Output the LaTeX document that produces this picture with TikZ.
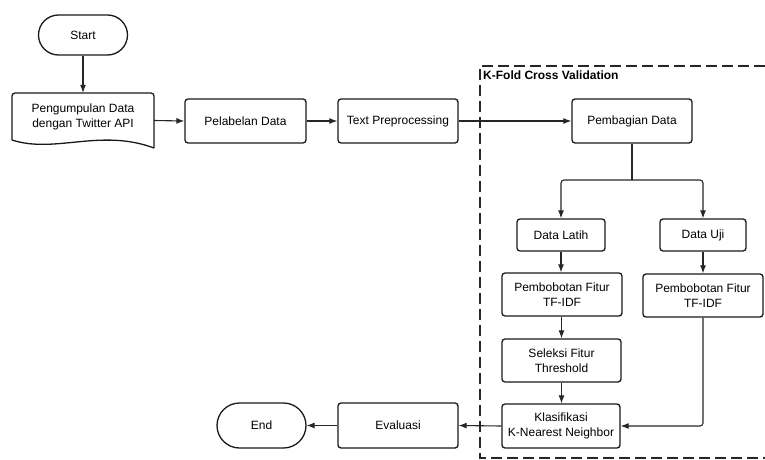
\documentclass[tikz,border=0pt]{standalone}
\usepackage{fontspec}
\setmainfont{Liberation Sans}
\usetikzlibrary{arrows.meta,shapes.misc}
\begin{document}
\begin{tikzpicture}[x=1pt,y=-1pt,
  txt/.style={font=\fontsize{12}{14.5}\selectfont, align=center},
  proc/.style={txt, draw=black!90, line width=1.3pt, rounded corners=3pt, inner sep=0pt},
  term/.style={txt, draw=black!90, line width=1.3pt, rounded rectangle, inner sep=0pt},
  conn/.style={line width=1.1pt, draw=black!85, rounded corners=3pt, -{Latex[length=8pt,width=6pt]}},
  plain/.style={line width=1.1pt, draw=black!85, rounded corners=3pt},
  cvbox/.style={line width=1.4pt, draw=black!85, dash pattern=on 11pt off 5pt}
]
\useasboundingbox (0,0) rectangle (765,460);

% K-fold frame
\draw[cvbox] (765,66) -- (480,66) -- (480,458) -- (765,458);
\node[anchor=west, inner sep=0pt, font=\fontsize{12}{14}\selectfont\bfseries] (kfold) at (483,75) {K-Fold Cross Validation};

% nodes
\node[term, minimum width=89pt, minimum height=40pt] (start) at (83,35) {Start};

\node[minimum width=142pt, minimum height=55pt, inner sep=0pt] (doc) at (83,120.5) {};
\draw[line width=1.3pt, draw=black!90, rounded corners=3pt] (12,140) -- (12,93) -- (154,93) -- (154,148);
\draw[line width=1.3pt, draw=black!90] (12,140) .. controls (55,154) and (100,128) .. (154,148);
\node[txt, inner sep=0pt] (doctext) at (83,117) {Pengumpulan Data\\dengan Twitter API};

\node[proc, minimum width=121pt, minimum height=44pt] (pel) at (245.5,121) {Pelabelan Data};
\node[proc, minimum width=120pt, minimum height=44pt] (tp) at (398,121) {Text Preprocessing};
\node[proc, minimum width=120pt, minimum height=44pt] (pem) at (632,121) {Pembagian Data};

\node[proc, minimum width=88pt, minimum height=32pt] (latih) at (561,235) {Data Latih};
\node[proc, minimum width=86pt, minimum height=32pt] (uji) at (703,235) {Data Uji};

\node[proc, minimum width=120pt, minimum height=43pt] (bobotA) at (562,294.5) {Pembobotan Fitur\\TF-IDF};
\node[proc, minimum width=120pt, minimum height=43pt] (bobotB) at (703,295.5) {Pembobotan Fitur\\TF-IDF};
\node[proc, minimum width=119pt, minimum height=43pt] (sel) at (561.5,360.5) {Seleksi Fitur\\Threshold};
\node[proc, minimum width=118pt, minimum height=44pt] (klas) at (561,426) {Klasifikasi\\K-Nearest Neighbor};

\node[proc, minimum width=120pt, minimum height=45pt] (eval) at (398,425.5) {Evaluasi};
\node[term, minimum width=89pt, minimum height=45pt] (end) at (261.5,425.5) {End};

% connectors
\coordinate (junc) at (632,180);
\draw[conn] (start.south) -- (doc.north);
\draw[conn] (doc.east) -- (pel.west);
\draw[conn] (pel.east) -- (tp.west);
\draw[conn] (tp.east) -- (pem.west);
\draw[plain] (pem.south) -- (junc);
\draw[conn] (junc) -| (latih.north);
\draw[conn] (junc) -| (uji.north);
\draw[conn] (latih.south) -- (latih.south |- bobotA.north);
\draw[conn] (bobotA.south -| sel.north) -- (sel.north);
\draw[conn] (sel.south) -- (sel.south |- klas.north);
\draw[conn] (uji.south) -- (uji.south |- bobotB.north);
\draw[conn] (bobotB.south) |- (klas.east);
\draw[conn] (klas.west) -- (eval.east);
\draw[conn] (eval.west) -- (end.east);
\end{tikzpicture}
\end{document}
